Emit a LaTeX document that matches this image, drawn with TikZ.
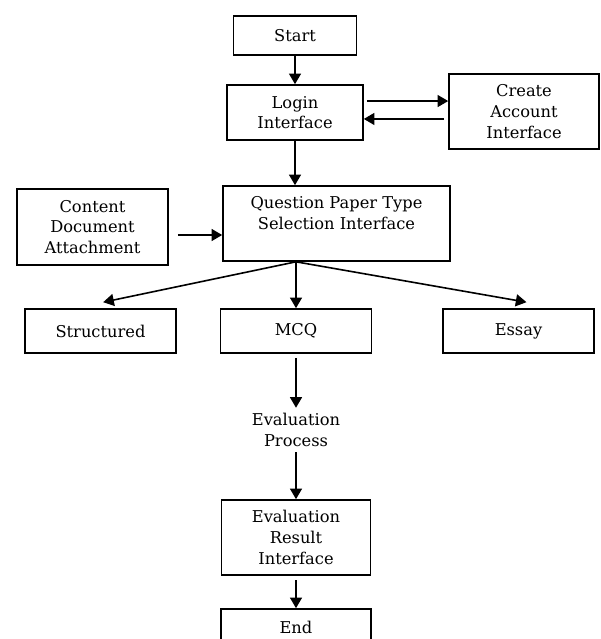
\documentclass[tikz,border=0pt]{standalone}
\usepackage{fontspec}
\setmainfont{DejaVu Serif}
\usetikzlibrary{arrows.meta}
\begin{document}
\begin{tikzpicture}[x=0.75pt,y=-0.75pt,
  box/.style={draw, line width=1.2pt, inner sep=0pt, align=center, font=\fontsize{12.2}{15.5}\selectfont},
  txt/.style={inner sep=0pt, align=center, font=\fontsize{12.2}{15.5}\selectfont},
  arr/.style={line width=1.2pt, -{Triangle[length=8pt,width=9pt]}}]
\useasboundingbox (0,0) rectangle (600,639);
\clip (0,0) rectangle (600,639);
\node[box, minimum width=92.25pt, minimum height=29.25pt] (start) at (295,35.5) {Start};
\node[box, minimum width=102pt, minimum height=41.25pt] (login) at (295,112.5) {Login\\Interface};
\node[box, minimum width=112.5pt, minimum height=56.25pt] (create) at (524,111.5) {Create\\Account\\Interface};
\node[box, minimum width=170.25pt, minimum height=56.25pt] (qpt) at (336.5,223.5) {Question Paper Type\\Selection Interface\\ \mbox{}};
\node[box, minimum width=113.25pt, minimum height=57pt] (content) at (92.5,227) {Content\\Document\\Attachment};
\node[box, minimum width=113.25pt, minimum height=33pt] (struct) at (100.5,331) {Structured};
\node[box, minimum width=113.25pt, minimum height=33pt] (mcq) at (296,331) {MCQ};
\node[box, minimum width=113.25pt, minimum height=33pt] (essay) at (518.5,331) {Essay};
\node[txt] (ep) at (296,430) {Evaluation\\Process};
\node[box, minimum width=111.75pt, minimum height=56.25pt] (er) at (296,537.5) {Evaluation\\Result\\Interface};
\node[box, minimum width=112.5pt, minimum height=27pt] (endn) at (296,627) {End};

\draw[arr] (start) -- (login);
\coordinate (la) at ([xshift=2.25pt,yshift=8.6pt]login.east);
\draw[arr] (la) -- (la -| create.west);
\coordinate (cb) at ([xshift=-3pt,yshift=-5.6pt]create.west);
\draw[arr] (cb) -- (cb -| login.east);
\draw[arr] (login) -- (login.south |- qpt.north);
\coordinate (cc) at ([xshift=6.75pt,yshift=-6pt]content.east);
\draw[arr] (cc) -- (cc -| qpt.west);
\coordinate (fan) at (mcq.north |- qpt.south);
\draw[arr] (fan) -- ([xshift=2pt,yshift=4.5pt]struct.north);
\draw[arr] (fan) -- (mcq.north);
\draw[arr] (fan) -- ([xshift=6pt,yshift=4.5pt]essay.north);
\draw[arr, shorten <=3pt, shorten >=4pt] (mcq.south) -- (ep.north);
\draw[arr, shorten <=4pt] (ep.south) -- (er.north);
\draw[arr, shorten <=3.5pt] (er.south) -- (endn.north);
\end{tikzpicture}
\end{document}
